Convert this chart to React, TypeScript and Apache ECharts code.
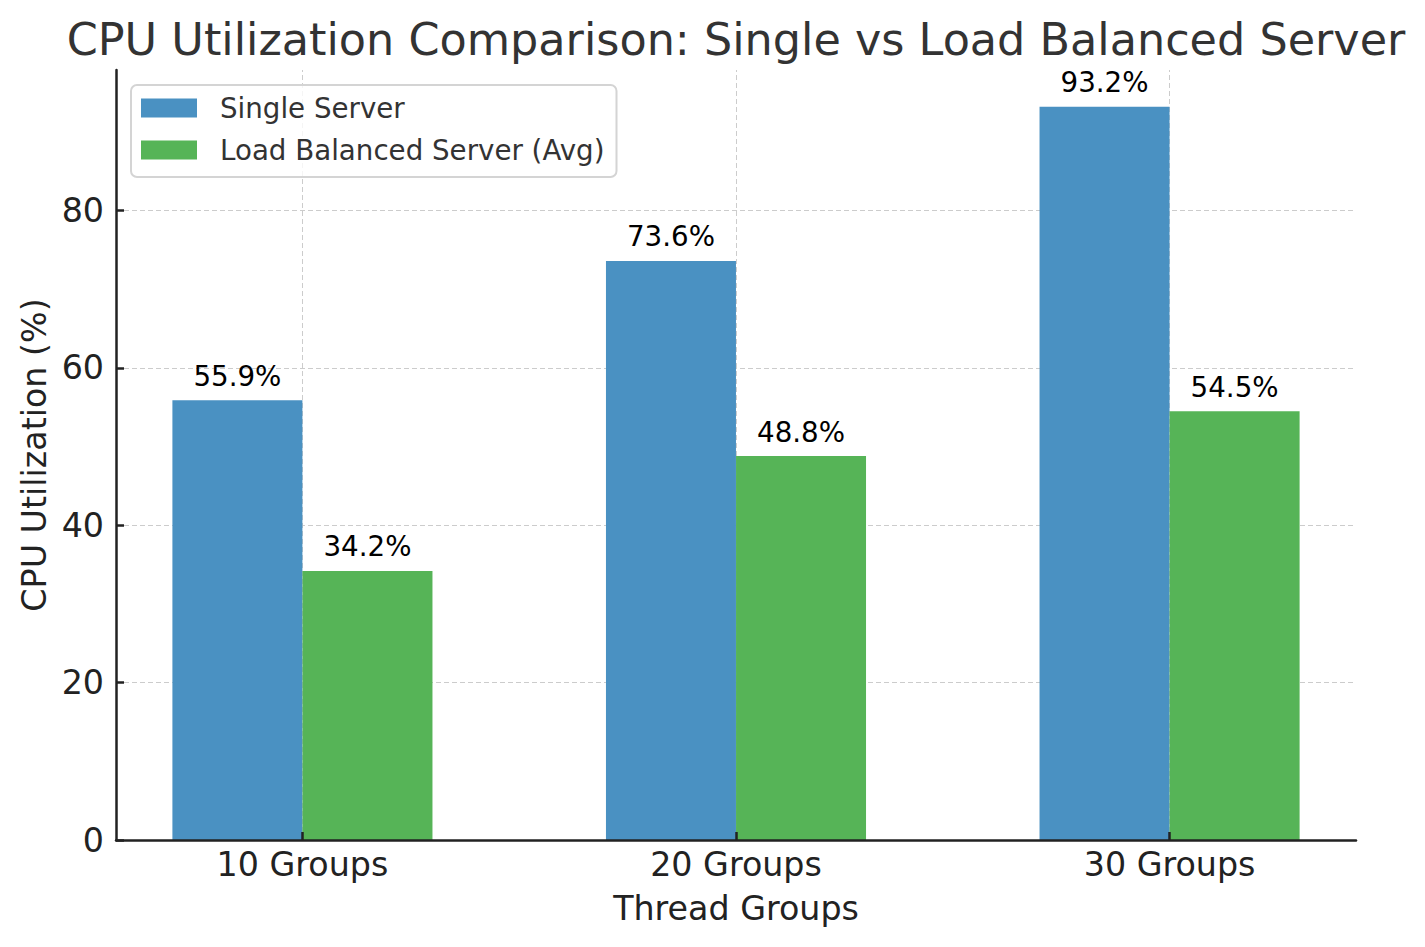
import React, { useEffect, useRef } from "react";
import * as echarts from "echarts";

const categories = ["10 Groups", "20 Groups", "30 Groups"];
const singleServer = [55.9, 73.6, 93.2];
const loadBalanced = [34.2, 48.8, 54.5];
const yTicks = [0, 20, 40, 60, 80];
const seriesNames = ["Single Server", "Load Balanced Server (Avg)"];

const FONT = "DejaVu Sans";
const BLUE = "#4a91c2";
const GREEN = "#56b457";

export default function App() {
  const ref = useRef<HTMLDivElement>(null);
  useEffect(() => {
    document.body.style.margin = "0";
    const chart = echarts.init(ref.current!, null, { renderer: "svg" });
    const half = 0.15;
    const allMax = Math.max(...singleServer, ...loadBalanced);
    const yMax = allMax * 1.05;
    const xMin = -2 * half - 0.13;
    const xMax = categories.length - 1 + 2 * half + 0.13;
    const gridStyle = { type: [5, 3], color: "#cccccc", width: 1 };
    const label = {
      show: true,
      position: "top",
      distance: 10,
      fontSize: 27.7,
      fontFamily: FONT,
      color: "#000",
      formatter: (p: any) => p.value[1].toFixed(1) + "%",
    };
    chart.setOption({
      animation: false,
      backgroundColor: "#fff",
      title: {
        text: "CPU Utilization Comparison: Single vs Load Balanced Server",
        left: 731,
        textAlign: "center",
        top: 12,
        textStyle: { fontFamily: FONT, fontSize: 44.5, fontWeight: "normal", color: "#333" },
      },
      legend: {
        orient: "vertical",
        left: 131,
        top: 85,
        icon: "rect",
        itemWidth: 56,
        itemHeight: 19,
        itemGap: 14,
        padding: [9, 12, 13, 10],
        borderColor: "#d4d4d4",
        borderWidth: 2,
        borderRadius: 6,
        backgroundColor: "rgba(255,255,255,0.8)",
        textStyle: { fontFamily: FONT, fontSize: 27.7, color: "#333", padding: [0, 0, 0, 18] },
        data: seriesNames,
      },
      grid: { left: 116, right: 69, top: 70, bottom: 107, containLabel: false },
      xAxis: {
        type: "value",
        min: xMin,
        max: xMax,
        z: 5,
        name: "Thread Groups",
        nameLocation: "middle",
        nameGap: 52,
        nameTextStyle: { fontFamily: FONT, fontSize: 33.3, color: "#222" },
        axisLine: { show: true, onZero: false, lineStyle: { color: "#222", width: 2.5 } },
        axisTick: { show: true, inside: true, length: 8, customValues: [0, 1, 2], lineStyle: { color: "#222", width: 2.5 } },
        axisLabel: {
          customValues: [0, 1, 2],
          margin: 8,
          fontFamily: FONT,
          fontSize: 33.3,
          color: "#222",
          formatter: (v: number) => categories[Math.round(v)] ?? "",
        },
        splitLine: { show: false },
      },
      yAxis: {
        type: "value",
        min: 0,
        max: yMax,
        z: 5,
        name: "CPU Utilization (%)",
        nameLocation: "middle",
        nameGap: 60,
        nameTextStyle: { fontFamily: FONT, fontSize: 33.3, color: "#222" },
        axisLine: { show: true, onZero: false, lineStyle: { color: "#222", width: 2.5 } },
        axisTick: { show: true, inside: true, length: 8, customValues: yTicks, lineStyle: { color: "#222", width: 2.5 } },
        axisLabel: { customValues: yTicks, margin: 12, fontFamily: FONT, fontSize: 33.3, color: "#222" },
        splitLine: { show: false },
      },
      series: [
        {
          type: "bar",
          name: seriesNames[0],
          data: singleServer.map((v, i) => [i - half, v]),
          barWidth: 130,
          barGap: "-100%",
          itemStyle: { color: BLUE },
          label,
          markLine: {
            silent: true,
            z: 1,
            symbol: ["none", "none"],
            label: { show: false },
            emphasis: { disabled: true },
            lineStyle: gridStyle,
            data: [
              ...yTicks.filter((t) => t > 0).map((t) => ({ yAxis: t })),
              ...categories.map((_, i) => ({ xAxis: i })),
            ],
          },
        },
        {
          type: "bar",
          name: seriesNames[1],
          data: loadBalanced.map((v, i) => [i + half, v]),
          barWidth: 130,
          barGap: "-100%",
          itemStyle: { color: GREEN },
          label,
        },
      ],
    });
    return () => chart.dispose();
  }, []);
  return <div ref={ref} style={{ width: 1425, height: 947 }} />;
}
